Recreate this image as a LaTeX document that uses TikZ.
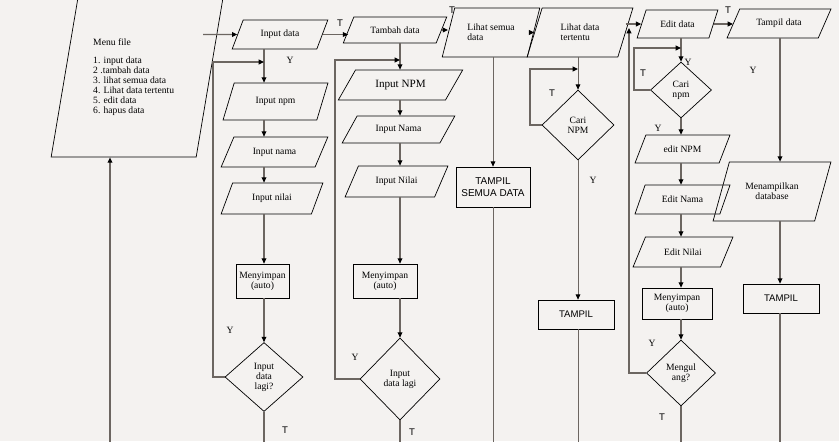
\documentclass[tikz,border=0pt]{standalone}
\usepackage{fontspec}
\setmainfont{Liberation Serif}
\newfontfamily\arialfont{Liberation Sans}
\usetikzlibrary{arrows.meta,shapes.geometric}
\definecolor{bgpaper}{RGB}{244,242,240}
\definecolor{linegray}{RGB}{108,102,97}
\newcommand\flowfont{\fontsize{8.2}{8.6}\selectfont}
\tikzset{
  iobox/.style={draw, line width=0.6pt, trapezium, trapezium stretches=true, trapezium left angle=60, trapezium right angle=120, inner sep=1pt, align=center, font=\flowfont},
  procbox/.style={draw, line width=0.6pt, rectangle, inner sep=1pt, align=center, font=\flowfont},
  outbox/.style={procbox, font=\arialfont\flowfont},
  decisionbox/.style={draw, line width=0.6pt, diamond, inner sep=0pt, align=center, font=\flowfont},
  arrow/.style={-{Triangle[length=4.5pt,width=4pt,color=black]}, line width=1pt, draw=linegray},
  flowline/.style={line width=1pt, draw=linegray},
  thinline/.style={line width=0.7pt, draw=linegray},
  ylabel/.style={font=\flowfont, inner sep=0pt},
  tlabel/.style={font=\arialfont\flowfont, inner sep=0pt}
}
\begin{document}
\begin{tikzpicture}[x=0.03cm, y=-0.03cm]
  \path[fill=bgpaper, use as bounding box] (0,0) rectangle (839,441);
  \clip (0,0) rectangle (839,441);

  % column lines and free ends
  \coordinate (x1) at (264,0);
  \coordinate (x2) at (400,0);
  \coordinate (x4) at (578,0);
  \coordinate (x5) at (681,0);
  \coordinate (x6) at (780,0);
  \coordinate (m0) at (203,34.5);
  \coordinate (b0) at (110,450);
  \coordinate (r1) at (213,62);
  \coordinate (r2) at (335,60);
  \coordinate (r4) at (530,69);
  \coordinate (r5) at (634,48);
  \coordinate (lp5) at (629,28);
  \coordinate (e1) at (264,450);
  \coordinate (e2) at (400,450);
  \coordinate (e3) at (493,450);
  \coordinate (e4) at (578,450);
  \coordinate (e5) at (681,450);
  \coordinate (e6) at (780,450);

  % menu
  \node[iobox, trapezium left angle=75, trapezium right angle=105, minimum width=5.27cm, minimum height=5.46cm] (menu) at (139,66) {};
  \node[font=\flowfont, align=left, anchor=north west, inner sep=0pt] (menulist) at (93,38)
    {Menu file\\[7pt]1. input data\\2 .tambah data\\3. lihat semua data\\4. Lihat data tertentu\\5. edit data\\6. hapus data};

  % input data
  \node[iobox, trapezium left angle=61, trapezium right angle=119, minimum width=2.88cm, minimum height=0.87cm] (idata) at (280,34.5) {Input data};
  \node[iobox, trapezium left angle=62, trapezium right angle=118, minimum width=3.15cm, minimum height=1.11cm] (inpm) at (275.5,101.5) {Input npm};
  \node[iobox, trapezium left angle=56, trapezium right angle=124, minimum width=3.21cm, minimum height=0.9cm] (inama) at (274.5,152) {Input nama};
  \node[iobox, trapezium left angle=61, trapezium right angle=119, minimum width=3.06cm, minimum height=0.93cm] (inilai) at (272,198.5) {Input nilai};
  \node[procbox, minimum width=1.59cm, minimum height=1.02cm] (save1) at (262.5,281) {Menyimpan\\(auto)};
  \node[decisionbox, minimum width=2.34cm, minimum height=2.07cm] (lagi1) at (264,377) {Input\\data\\lagi?};

  % tambah data
  \node[iobox, trapezium left angle=54, trapezium right angle=126, minimum width=3.12cm, minimum height=0.78cm] (tambah) at (395,30) {Tambah data};
  \node[iobox, trapezium left angle=50, trapezium right angle=130, minimum width=3.75cm, minimum height=0.9cm, font=\fontsize{9.5}{10}\selectfont] (inpm2) at (400.5,85) {Input NPM};
  \node[iobox, trapezium left angle=51, trapezium right angle=129, minimum width=3.39cm, minimum height=0.81cm] (inama2) at (398.5,129.5) {Input Nama};
  \node[iobox, trapezium left angle=55, trapezium right angle=125, minimum width=3.09cm, minimum height=0.93cm] (inilai2) at (396.5,181.5) {Input Nilai};
  \node[procbox, minimum width=1.92cm, minimum height=1.02cm] (save2) at (385,281) {Menyimpan\\(auto)};
  \node[decisionbox, minimum width=2.4cm, minimum height=2.46cm] (lagi2) at (400,379) {Input\\data lagi};

  % lihat semua data
  \node[iobox, align=left, trapezium left angle=66, trapezium right angle=114, minimum width=2.94cm, minimum height=1.47cm] (semua) at (491,32.5) {Lihat semua\\data};
  \node[outbox, minimum width=2.22cm, minimum height=1.2cm, font=\arialfont\fontsize{8.5}{10.5}\selectfont] (tsemua) at (493,187) {TAMPIL\\SEMUA DATA};

  % lihat data tertentu
  \node[iobox, align=left, trapezium left angle=67, trapezium right angle=113, minimum width=3.18cm, minimum height=1.47cm] (tertentu) at (580,32.5) {Lihat data\\tertentu};
  \node[decisionbox, minimum width=2.16cm, minimum height=2.1cm] (cari1) at (578,125) {Cari\\NPM};
  \node[outbox, minimum width=2.28cm, minimum height=0.87cm] (tampil1) at (576,314.5) {TAMPIL};

  % edit data
  \node[iobox, minimum width=2.43cm, minimum height=0.84cm] (edit) at (677.5,24) {Edit data};
  \node[decisionbox, minimum width=1.83cm, minimum height=1.68cm] (cari2) at (681,90) {Cari\\npm};
  \node[iobox, trapezium left angle=57, trapezium right angle=123, minimum width=2.85cm, minimum height=0.84cm] (enpm) at (682.5,149) {edit NPM};
  \node[iobox, trapezium left angle=57, trapezium right angle=123, minimum width=2.85cm, minimum height=0.87cm] (enama) at (682.5,199.5) {Edit Nama};
  \node[iobox, trapezium left angle=54, trapezium right angle=126, minimum width=3.0cm, minimum height=0.9cm] (enilai) at (683,252) {Edit Nilai};
  \node[procbox, minimum width=2.1cm, minimum height=0.93cm] (save3) at (677,303.5) {Menyimpan\\(auto)};
  \node[decisionbox, minimum width=2.07cm, minimum height=1.98cm] (ulang) at (681,373) {Mengul\\ang?};

  % tampil data
  \node[iobox, trapezium left angle=55, trapezium right angle=125, minimum width=3.12cm, minimum height=0.87cm] (tdata) at (779,23.5) {Tampil data};
  \node[iobox, trapezium left angle=61, trapezium right angle=119, minimum width=3.54cm, minimum height=1.77cm] (mdb) at (772,191.5) {Menampilkan\\database};
  \node[outbox, minimum width=2.28cm, minimum height=0.87cm] (tampil2) at (781,298.5) {TAMPIL};

  % labels
  \node[tlabel] (t1) at (340,23) {T};
  \node[tlabel] (t2) at (452,10) {T};
  \node[tlabel] (t3) at (728,10) {T};
  \node[ylabel] (y1) at (290,60) {Y};
  \node[ylabel] (y2) at (230,330) {Y};
  \node[tlabel] (t4) at (285,430) {T};
  \node[ylabel] (y3) at (355,357) {Y};
  \node[tlabel] (t5) at (412,432) {T};
  \node[tlabel] (t6) at (552,93) {T};
  \node[ylabel] (y4) at (593,180) {Y};
  \node[tlabel] (t7) at (643,73) {T};
  \node[ylabel] (y5) at (688,62) {Y};
  \node[ylabel] (y6) at (658,128) {Y};
  \node[ylabel] (y7) at (652,343) {Y};
  \node[tlabel] (t8) at (662,417) {T};
  \node[ylabel] (y8) at (753,70) {Y};

  % top row
  \draw[arrow] (m0) -- (idata);
  \draw[arrow] (b0) -- (b0 |- menu.south);
  \draw[arrow] (idata.east) -- (idata.east -| tambah.west);
  \draw[arrow] (tambah.east) -- (tambah.east -| semua.west);
  \draw[arrow] (semua.east) -- (semua.east -| tertentu.west);
  \draw[arrow] (tertentu.east |- edit.west) -- (edit.west);
  \draw[arrow] (edit.east) -- (edit.east -| tdata.west);

  % input data column
  \draw[arrow] (idata.south -| x1) -- (inpm.north -| x1);
  \draw[arrow] (inpm.south -| x1) -- (inama.north -| x1);
  \draw[arrow] (inama.south -| x1) -- (inilai.north -| x1);
  \draw[arrow] (inilai.south -| x1) -- (save1.north -| x1);
  \draw[arrow] (save1.south -| x1) -- (lagi1.north);
  \draw[flowline] (lagi1.south) -- (e1);
  \draw[arrow] (lagi1.west) -| (r1) -- (r1 -| x1);

  % tambah data column
  \draw[arrow] (tambah.south -| x2) -- (inpm2.north -| x2);
  \draw[arrow] (inpm2.south -| x2) -- (inama2.north -| x2);
  \draw[arrow] (inama2.south -| x2) -- (inilai2.north -| x2);
  \draw[arrow] (inilai2.south -| x2) -- (save2.north -| x2);
  \draw[arrow] (save2.south -| x2) -- (lagi2.north);
  \draw[flowline] (lagi2.south) -- (e2);
  \draw[arrow] (lagi2.west) -| (r2) -- (r2 -| x2);

  % lihat semua column
  \draw[arrow, thinline] (semua.south -| tsemua) -- (tsemua.north);
  \draw[thinline] (tsemua.south) -- (e3);

  % lihat data tertentu column
  \draw[arrow, thinline] (tertentu.south -| x4) -- (cari1.north);
  \draw[arrow, thinline] (cari1.south) -- (tampil1.north -| x4);
  \draw[thinline] (tampil1.south -| x4) -- (e4);
  \draw[thinline, arrow] (cari1.west) -| (r4) -- (r4 -| x4);

  % edit data column
  \draw[arrow] (edit.south -| x5) -- (cari2.north);
  \draw[arrow] (cari2.south) -- (enpm.north -| x5);
  \draw[arrow] (enpm.south -| x5) -- (enama.north -| x5);
  \draw[arrow] (enama.south -| x5) -- (enilai.north -| x5);
  \draw[arrow] (enilai.south -| x5) -- (save3.north -| x5);
  \draw[arrow] (save3.south -| x5) -- (ulang.north);
  \draw[flowline] (ulang.south) -- (e5);
  \draw[arrow] (cari2.west) -| (r5) -- (r5 -| x5);
  \draw[arrow] (ulang.west) -| (lp5);

  % tampil data column
  \draw[arrow] (tdata.south -| x6) -- (mdb.north -| x6);
  \draw[arrow] (mdb.south -| x6) -- (tampil2.north -| x6);
  \draw[flowline] (tampil2.south -| x6) -- (e6);
\end{tikzpicture}
\end{document}
